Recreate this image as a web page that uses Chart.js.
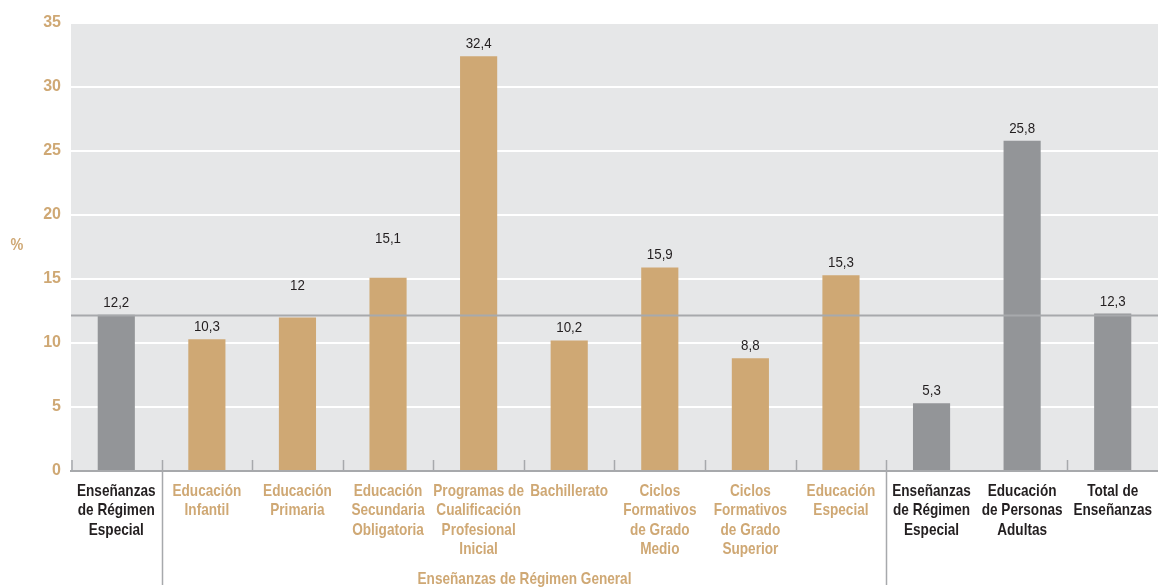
<!DOCTYPE html>
<html lang="es">
<head>
<meta charset="UTF-8" />
<title>Porcentaje por enseñanza</title>
<script src="https://cdn.jsdelivr.net/npm/chart.js@4/dist/chart.umd.min.js"></script>
<style>
  html, body { margin: 0; padding: 0; background: #fff; }
  #wrap { width: 1158px; height: 588px; position: relative; }
</style>
</head>
<body>
<div id="wrap"><canvas id="myChart"></canvas></div>
<script>
// data
var categories = [
  ['Enseñanzas', 'de Régimen', 'Especial'],
  ['Educación', 'Infantil'],
  ['Educación', 'Primaria'],
  ['Educación', 'Secundaria', 'Obligatoria'],
  ['Programas de', 'Cualificación', 'Profesional', 'Inicial'],
  ['Bachillerato'],
  ['Ciclos', 'Formativos', 'de Grado', 'Medio'],
  ['Ciclos', 'Formativos', 'de Grado', 'Superior'],
  ['Educación', 'Especial'],
  ['Enseñanzas', 'de Régimen', 'Especial'],
  ['Educación', 'de Personas', 'Adultas'],
  ['Total de', 'Enseñanzas']
];
var values = [12.2, 10.3, 12, 15.1, 32.4, 10.2, 15.9, 8.8, 15.3, 5.3, 25.8, 12.3];
var valueLabels = ['12,2', '10,3', '12', '15,1', '32,4', '10,2', '15,9', '8,8', '15,3', '5,3', '25,8', '12,3'];
var isGeneral = [false, true, true, true, true, true, true, true, true, false, false, false];
var refValue = 12.2;
var groupLabel = 'Enseñanzas de Régimen General';
var yTicks = [0, 5, 10, 15, 20, 25, 30, 35];

var TAN = '#cfa874';
var GREY = '#939598';
var DARK = '#231f20';
var FONT = '"Liberation Sans", Arial, sans-serif';
// a few value labels sit higher, clear of the reference line
var labelLift = { 2: 19, 3: 27 };

// draw text squeezed horizontally, to look like a condensed face
function condText(c, txt, x, y, sx) {
  c.save();
  c.translate(x, y);
  c.scale(sx, 1);
  c.fillText(txt, 0, 0);
  c.restore();
}

var extras = {
  id: 'extras',
  beforeDraw: function (chart) {
    var a = chart.chartArea, c = chart.ctx;
    c.save();
    c.fillStyle = '#e6e7e8';
    c.fillRect(a.left, a.top, a.right - a.left, a.bottom - a.top);
    c.restore();
  },
  afterDatasetsDraw: function (chart) {
    var a = chart.chartArea, c = chart.ctx;
    var x = chart.scales.x, y = chart.scales.y;
    c.save();
    // reference line
    var ry = Math.round(y.getPixelForValue(refValue)) + 0.5;
    c.strokeStyle = '#a7a9ac';
    c.lineWidth = 2;
    c.beginPath(); c.moveTo(a.left, ry); c.lineTo(a.right, ry); c.stroke();

    // boundaries between categories
    c.lineWidth = 1.5;
    var half = (x.getPixelForValue(1) - x.getPixelForValue(0)) / 2;
    function bx(i) { return Math.round(x.getPixelForValue(i) + half) + 0.5; }
    var longAfter = [0, 8];
    var shortAfter = [1, 2, 3, 4, 5, 6, 7, 10];
    c.beginPath();
    c.moveTo(a.left + 1, a.bottom - 11); c.lineTo(a.left + 1, a.bottom);
    shortAfter.forEach(function (i) { c.moveTo(bx(i), a.bottom - 11); c.lineTo(bx(i), a.bottom); });
    longAfter.forEach(function (i) { c.moveTo(bx(i), a.bottom - 11); c.lineTo(bx(i), 585); });
    c.stroke();

    // value labels
    c.font = '14.5px ' + FONT;
    c.fillStyle = DARK;
    c.textAlign = 'center';
    c.textBaseline = 'alphabetic';
    var meta = chart.getDatasetMeta(0);
    meta.data.forEach(function (bar, i) {
      condText(c, valueLabels[i], bar.x, bar.y - 8 - (labelLift[i] || 0), 0.92);
    });

    // category labels
    c.font = 'bold 17px ' + FONT;
    c.textBaseline = 'middle';
    categories.forEach(function (lines, i) {
      c.fillStyle = isGeneral[i] ? TAN : DARK;
      lines.forEach(function (t, j) {
        condText(c, t, x.getPixelForValue(i), a.bottom + 20 + j * 19.5, 0.8);
      });
    });

    // group label
    c.fillStyle = TAN;
    condText(c, groupLabel, (bx(0) + bx(8)) / 2, 579, 0.8);

    // % label
    c.font = 'bold 16px ' + FONT;
    condText(c, '%', 17, 246, 0.9);
    c.restore();
  }
};

var ctx = document.getElementById('myChart').getContext('2d');
var myChart = new Chart(ctx, {
  type: 'bar',
  data: {
    labels: categories,
    datasets: [{
      data: values,
      backgroundColor: isGeneral.map(function (g) { return g ? TAN : GREY; }),
      barPercentage: 0.41,
      categoryPercentage: 1
    }]
  },
  options: {
    responsive: true,
    maintainAspectRatio: false,
    animation: false,
    layout: { padding: { top: 23, right: 0, left: 0, bottom: 0 } },
    plugins: { legend: { display: false }, tooltip: { enabled: false } },
    scales: {
      x: {
        grid: { display: false, drawTicks: false },
        border: { display: true, color: '#a7a9ac', width: 2 },
        ticks: { display: false },
        afterFit: function (s) { s.height = 117; s.paddingRight = 0; s.paddingLeft = 0; }
      },
      y: {
        min: 0,
        max: 35,
        afterBuildTicks: function (s) { s.ticks = yTicks.map(function (v) { return { value: v }; }); },
        grid: { color: '#ffffff', lineWidth: 2, drawTicks: false },
        border: { display: false },
        ticks: {
          padding: 10,
          font: { family: FONT, size: 16, weight: 'bold' },
          color: TAN
        },
        afterFit: function (s) { s.width = 71; }
      }
    }
  },
  plugins: [extras]
});
</script>
</body>
</html>
